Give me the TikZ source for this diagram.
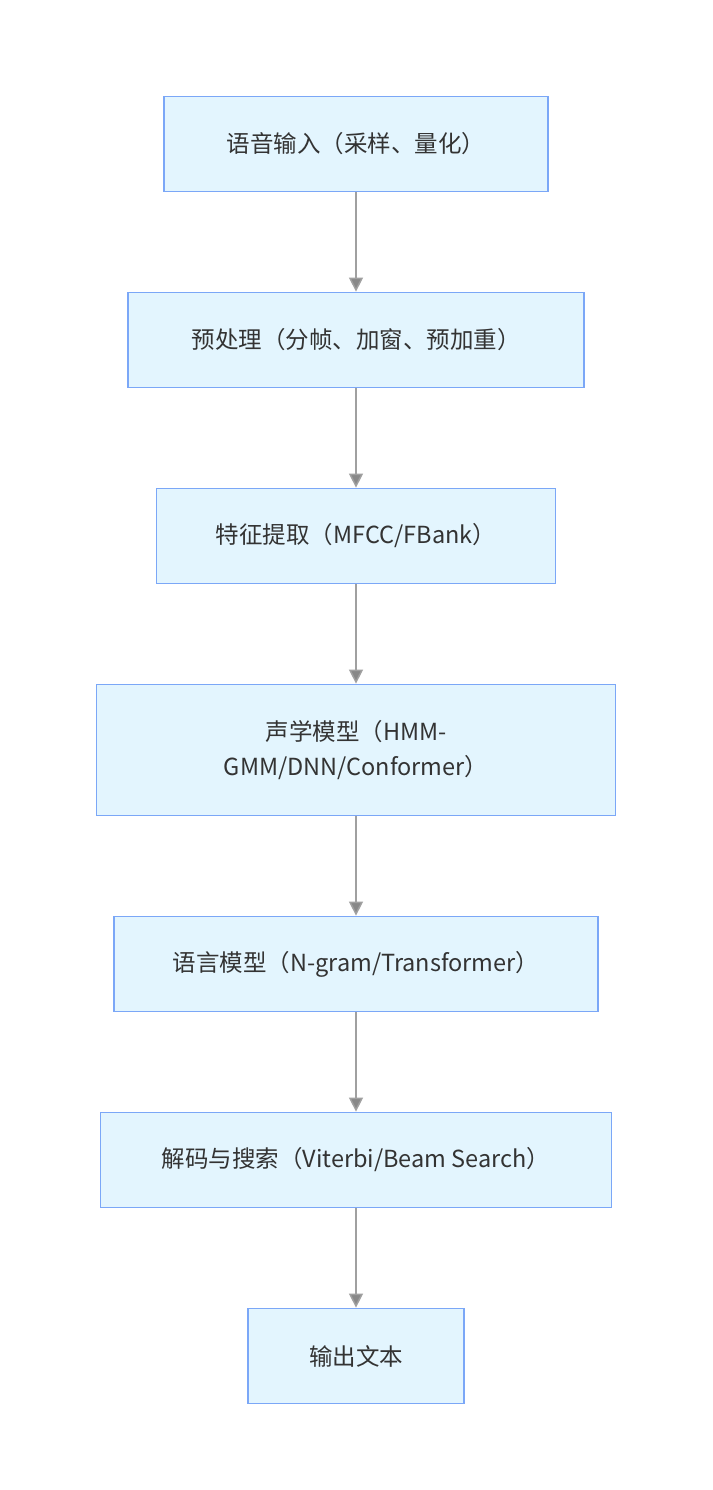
\documentclass[tikz,border=0pt]{standalone}
\usepackage{fontspec}
\setmainfont{Noto Sans CJK SC}
\usetikzlibrary{arrows.meta}
\definecolor{boxfill}{HTML}{E3F5FE}
\definecolor{boxdraw}{HTML}{7BA7F7}
\definecolor{linegray}{HTML}{A0A0A0}
\definecolor{txt}{HTML}{333333}
\begin{document}
\begin{tikzpicture}[x=1pt,y=-1pt,
  box/.style={draw=boxdraw, fill=boxfill, line width=1.8pt, inner sep=0pt,
    text=txt, align=center, font=\fontsize{23.5pt}{35pt}\selectfont, minimum height=95pt},
  flow/.style={draw=linegray, line width=1.5pt, -{Triangle[length=14pt,width=14pt,fill=linegray!85!black]}}]
\useasboundingbox (0,0) rectangle (712,1490);
\fill[white] (0,0) rectangle (712,1490);
\node[box, minimum width=384pt] (n1) at (356,144) {语音输入（采样、量化）};
\node[box, minimum width=456pt] (n2) at (356,340) {预处理（分帧、加窗、预加重）};
\node[box, minimum width=399pt] (n3) at (356,536) {特征提取（MFCC/FBank）};
\node[box, minimum width=519pt, minimum height=131pt] (n4) at (356,750) {声学模型（HMM-\\GMM/DNN/Conformer）};
\node[box, minimum width=484pt] (n5) at (356,964) {语言模型（N-gram/Transformer）};
\node[box, minimum width=511pt] (n6) at (356,1160) {解码与搜索（Viterbi/Beam Search）};
\node[box, minimum width=216pt] (n7) at (356,1356) {输出文本};
\draw[flow] (n1) -- (n2);
\draw[flow] (n2) -- (n3);
\draw[flow] (n3) -- (n4);
\draw[flow] (n4) -- (n5);
\draw[flow] (n5) -- (n6);
\draw[flow] (n6) -- (n7);
\end{tikzpicture}
\end{document}
